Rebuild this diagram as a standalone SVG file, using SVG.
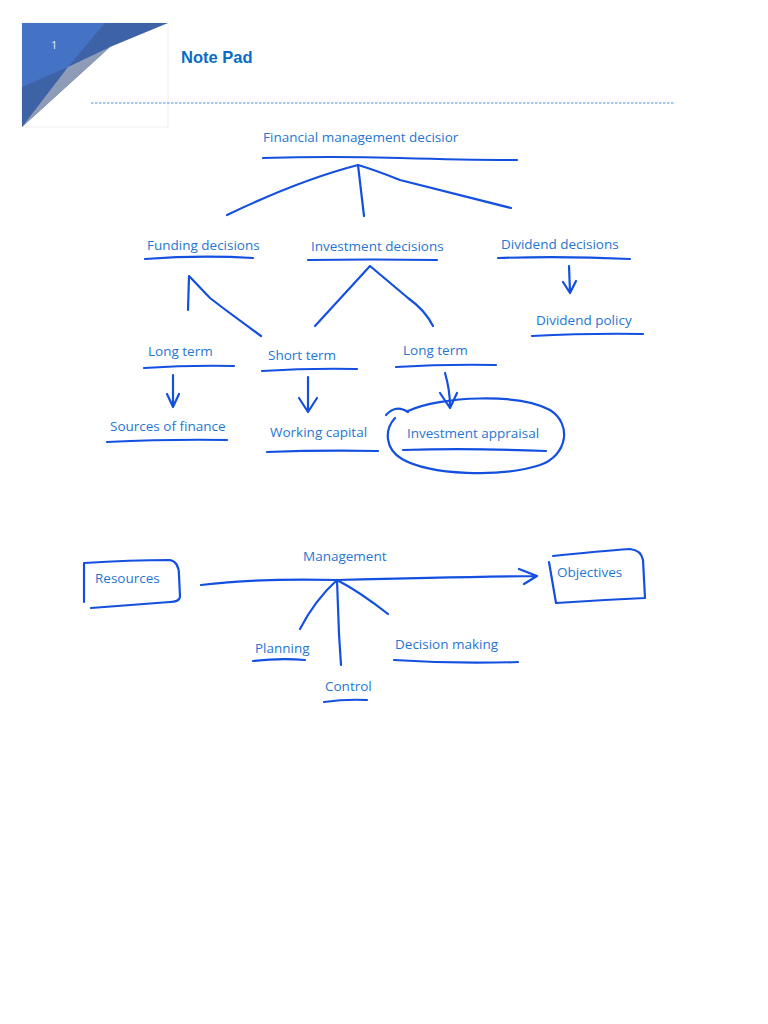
<svg xmlns="http://www.w3.org/2000/svg" width="768" height="1024" viewBox="0 0 768 1024">
<style>
.t{font-family:"Open Sans","Noto Sans","Liberation Sans",sans-serif;font-size:13.5px;fill:#1f76d4}
.s{fill:none;stroke:#1450e0;stroke-width:2.2;stroke-linecap:round;stroke-linejoin:round}
</style>
<rect width="768" height="1024" fill="#fff"/>
<g id="header">
<rect x="22" y="23" width="146" height="104" fill="#fff" stroke="#eeeeee"/>
<polygon points="22,23 168,23 110,47 22,127" fill="#3e62a6"/>
<polygon points="22,23 105,23 68,67 22,87" fill="#4472c4"/>
<polygon points="68,67 110,47 22,127" fill="#8e9cb8"/>
<text x="51" y="49" font-family="Open Sans, sans-serif" font-size="11" fill="#e8eef8">1</text>
<text x="181" y="63" font-family="Liberation Sans, Arial, sans-serif" font-size="16.5" font-weight="bold" fill="#0a6cc4">Note Pad</text>
<line x1="91" y1="103" x2="675" y2="103" stroke="#4a90d9" stroke-width="1" stroke-dasharray="2.5,1.5"/>
</g>
<g id="connectors">
<path class="s" d="M263,158 Q330,156 400,158 T517,160"/>
<path class="s" d="M227,215 Q300,180 358,165 L364,216"/>
<path class="s" d="M358,165 Q375,170 400,180 Q460,195 511,208"/>
<path class="s" d="M145,259 Q200,255 253,258"/>
<path class="s" d="M308,260 Q370,259 437,260"/>
<path class="s" d="M498,258 Q565,256 630,259"/>
<path class="s" d="M569,266 L570,292 M563,282 L570,293 L576,281"/>
<path class="s" d="M532,336 Q590,333 643,334"/>
<path class="s" d="M188,310 L189,276 L210,298 L223,308 L261,336"/>
<path class="s" d="M315,326 L370,266 L408,298 Q425,310 433,326"/>
<path class="s" d="M144,368 Q190,365 234,366"/>
<path class="s" d="M262,371 Q310,368 357,369"/>
<path class="s" d="M396,367 Q445,364 496,365"/>
<path class="s" d="M173,375 L173,406 M167,394 L173,407 L179,394"/>
<path class="s" d="M308,377 L308,412 M299,398 L308,412 L317,398"/>
<path class="s" d="M445,373 Q450,390 450,407 M440,393 L450,408 L457,393"/>
<path class="s" d="M107,442 Q170,439 227,440"/>
<path class="s" d="M267,452 Q320,450 378,451"/>
<path class="s" d="M403,450 Q470,448 546,451"/>
<path class="s" d="M386,415 Q396,404 408,412"/>
<path class="s" d="M408,411 C440,396 520,393 550,410 C572,424 568,455 540,465 C500,478 430,475 402,459 C385,449 384,430 395,418"/>
<path class="s" d="M84,564 L84,602 M84,563 Q130,560 170,560 Q179,562 179,575 L180,597 Q179,602 170,602 Q130,605 91,608"/>
<path class="s" d="M201,585 Q260,578 337,580 Q450,577 537,576 M519,569 L537,576 L524,584"/>
<path class="s" d="M553,556 Q600,551 630,549 Q641,550 643,560 L645,598 Q600,600 556,603 L549,562"/>
<path class="s" d="M337,580 Q315,600 300,629"/>
<path class="s" d="M337,580 L339,634 L341,665"/>
<path class="s" d="M337,580 Q360,592 388,614"/>
<path class="s" d="M253,661 Q280,658 305,660"/>
<path class="s" d="M324,702 Q345,699 367,700"/>
<path class="s" d="M394,660 Q455,664 518,662"/>
</g>
<g id="n-fin"><text class="t" x="263" y="142">Financial management decisior</text></g>
<g id="n-fund"><text class="t" x="147" y="250">Funding decisions</text></g>
<g id="n-inv"><text class="t" x="311" y="251">Investment decisions</text></g>
<g id="n-div"><text class="t" x="501" y="249">Dividend decisions</text></g>
<g id="n-divpol"><text class="t" x="536" y="325">Dividend policy</text></g>
<g id="n-lt1"><text class="t" x="148" y="356">Long term</text></g>
<g id="n-st"><text class="t" x="268" y="360">Short term</text></g>
<g id="n-lt2"><text class="t" x="403" y="355">Long term</text></g>
<g id="n-sof"><text class="t" x="110" y="431">Sources of finance</text></g>
<g id="n-wc"><text class="t" x="270" y="437">Working capital</text></g>
<g id="n-ia"><text class="t" x="407" y="438">Investment appraisal</text></g>
<g id="n-res"><text class="t" x="95" y="583">Resources</text></g>
<g id="n-mgmt"><text class="t" x="303" y="561">Management</text></g>
<g id="n-obj"><text class="t" x="557" y="577">Objectives</text></g>
<g id="n-plan"><text class="t" x="255" y="653">Planning</text></g>
<g id="n-ctrl"><text class="t" x="325" y="691">Control</text></g>
<g id="n-dm"><text class="t" x="395" y="649">Decision making</text></g>
</svg>
